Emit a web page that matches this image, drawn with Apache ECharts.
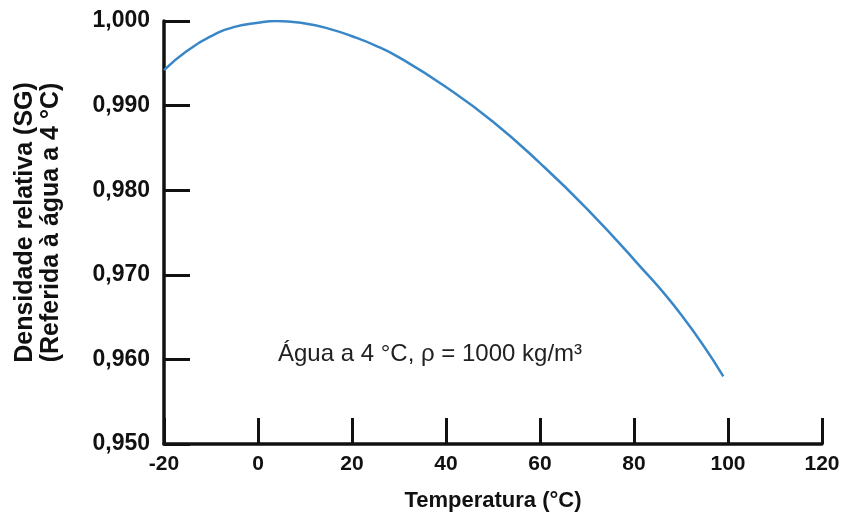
<!DOCTYPE html>
<html>
<head>
<meta charset="utf-8">
<script src="https://cdn.jsdelivr.net/npm/echarts@6/dist/echarts.min.js"></script>
<style>
  html, body { margin: 0; padding: 0; background: #fff; }
  #main { width: 842px; height: 518px; }
</style>
</head>
<body>
<div id="main"></div>
<script>
// temperature (°C) and relative density
var temps = [-20, -15, -10, -5, 0, 4, 10, 15, 20, 25, 30, 40, 50, 60, 70, 80, 90, 99]
var density = [0.9942, 0.9965, 0.9982, 0.9993, 0.9998, 1.0000, 0.9997, 0.9991, 0.9982, 0.9971, 0.9957, 0.9922, 0.9881, 0.9832, 0.9778, 0.9718, 0.9653, 0.9580]
var note = 'Água a 4 °C, ρ = 1000 kg/m³'

var chart = echarts.init(document.getElementById('main'))

var points = temps.map(function (t, i) { return [t, density[i]] })

var option = {
  animation: false,
  grid: {
    left: 164,
    right: 20,
    top: 21,
    bottom: 74,
    outerBoundsMode: 'none'
  },
  xAxis: {
    type: 'value',
    min: -20,
    max: 120,
    interval: 20,
    name: 'Temperatura (°C)',
    nameLocation: 'middle',
    nameGap: 46,
    nameMoveOverlap: false,
    nameTextStyle: {
      color: '#111',
      fontSize: 22,
      fontWeight: 'bold',
      fontFamily: 'Liberation Sans, Arial, sans-serif'
    },
    splitLine: { show: false },
    axisLine: {
      lineStyle: { color: '#111', width: 3.5 }
    },
    axisTick: {
      inside: true,
      length: 26,
      lineStyle: { color: '#111', width: 3 }
    },
    axisLabel: {
      margin: 10,
      color: '#111',
      fontSize: 21,
      fontWeight: 'bold',
      fontFamily: 'Liberation Sans, Arial, sans-serif'
    }
  },
  yAxis: {
    type: 'value',
    min: 0.95,
    max: 1.0,
    interval: 0.01,
    name: 'Densidade relativa (SG)\n(Referida à água a 4 °C)',
    nameLocation: 'middle',
    nameGap: 100,
    nameMoveOverlap: false,
    nameRotate: 90,
    nameTextStyle: {
      color: '#111',
      fontSize: 25,
      fontWeight: 'bold',
      lineHeight: 26,
      fontFamily: 'Liberation Sans, Arial, sans-serif',
      padding: [0, 0, 0, 20]
    },
    splitLine: { show: false },
    axisLine: {
      show: true,
      onZero: false,
      lineStyle: { color: '#111', width: 3.5 }
    },
    axisTick: {
      show: true,
      inside: true,
      length: 26,
      lineStyle: { color: '#111', width: 3 }
    },
    axisLabel: {
      margin: 14,
      color: '#111',
      fontSize: 23,
      fontWeight: 'bold',
      fontFamily: 'Liberation Sans, Arial, sans-serif',
      formatter: function (v) { return v.toFixed(3).replace('.', ',') }
    }
  },
  graphic: [
    {
      type: 'text',
      left: 278,
      top: 342,
      style: {
        text: note,
        fill: '#222',
        fontSize: 24,
        fontFamily: 'Liberation Sans, Arial, sans-serif'
      }
    }
  ],
  series: [
    {
      type: 'line',
      data: points,
      smooth: true,
      showSymbol: false,
      lineStyle: { color: '#3a87c8', width: 2.5 }
    }
  ]
}
chart.setOption(option)
</script>
</body>
</html>
